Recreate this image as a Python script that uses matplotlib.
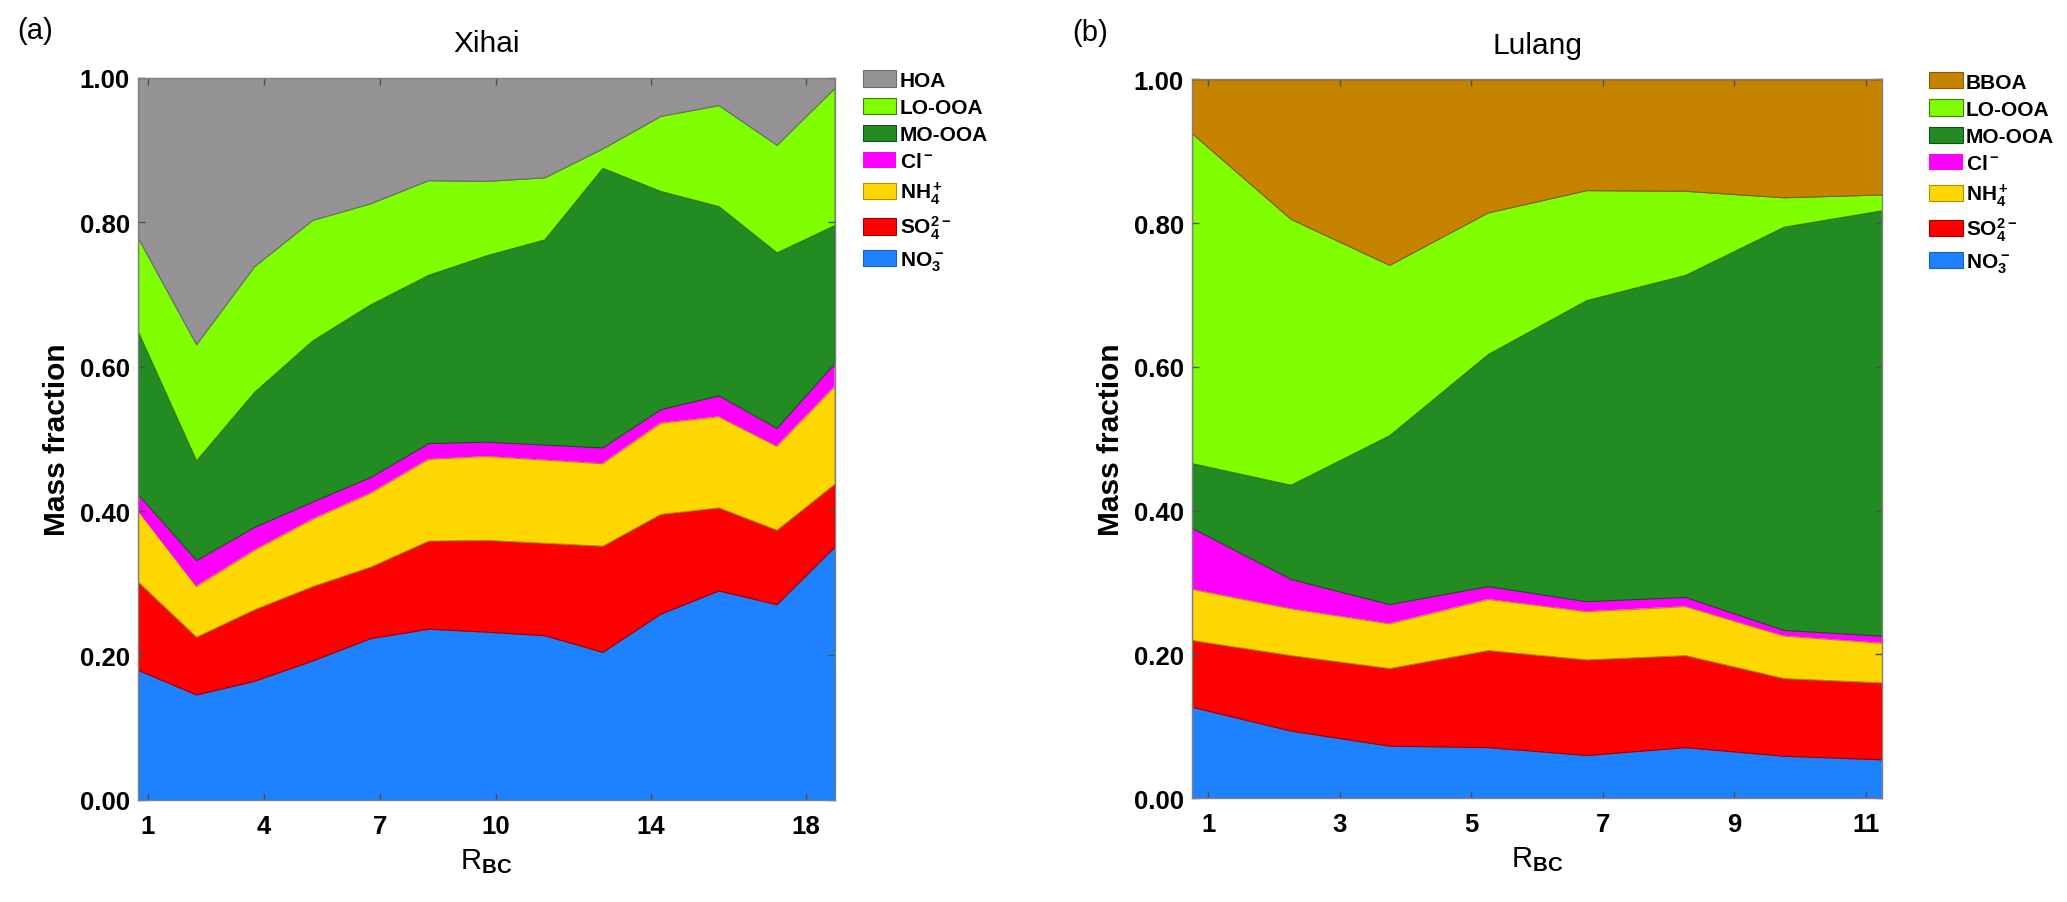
import matplotlib
matplotlib.use("Agg")
import matplotlib.pyplot as plt
from matplotlib.ticker import FormatStrFormatter

plt.rcParams["font.family"] = "Liberation Sans"
plt.rcParams["font.weight"] = "bold"
plt.rcParams["mathtext.fontset"] = "custom"
plt.rcParams["mathtext.rm"] = "Liberation Sans:bold"
plt.rcParams["mathtext.it"] = "Liberation Sans:bold"
plt.rcParams["mathtext.bf"] = "Liberation Sans:bold"
plt.rcParams["mathtext.sf"] = "Liberation Sans:bold"

#%% data: mass fractions per R_BC bin
# Xihai
rbc_xihai = [0.75, 2.25, 3.75, 5.25, 6.75, 8.25, 9.75, 11.25, 12.75, 14.25, 15.75, 17.25, 18.75]
no3_xihai = [0.180, 0.146, 0.165, 0.193, 0.224, 0.237, 0.233, 0.228, 0.205, 0.258, 0.290, 0.271, 0.351]
so4_xihai = [0.122, 0.080, 0.099, 0.103, 0.099, 0.122, 0.127, 0.128, 0.147, 0.138, 0.115, 0.103, 0.087]
nh4_xihai = [0.098, 0.070, 0.082, 0.093, 0.102, 0.113, 0.116, 0.115, 0.114, 0.126, 0.126, 0.116, 0.135]
cl_xihai = [0.023, 0.036, 0.032, 0.024, 0.022, 0.022, 0.020, 0.021, 0.022, 0.019, 0.029, 0.025, 0.032]
mo_xihai = [0.225, 0.138, 0.187, 0.223, 0.239, 0.233, 0.258, 0.284, 0.387, 0.302, 0.262, 0.243, 0.191]
lo_xihai = [0.130, 0.161, 0.174, 0.167, 0.140, 0.131, 0.103, 0.086, 0.027, 0.104, 0.140, 0.149, 0.190]
hoa_xihai = [0.222, 0.369, 0.261, 0.197, 0.174, 0.142, 0.143, 0.138, 0.098, 0.053, 0.038, 0.093, 0.014]
xticks_xihai = [1, 4, 7, 10, 14, 18]

# Lulang
rbc_lulang = [0.75, 2.25, 3.75, 5.25, 6.75, 8.25, 9.75, 11.25]
no3_lulang = [0.127, 0.094, 0.073, 0.071, 0.060, 0.071, 0.059, 0.054]
so4_lulang = [0.093, 0.105, 0.108, 0.135, 0.133, 0.128, 0.108, 0.107]
nh4_lulang = [0.071, 0.065, 0.062, 0.071, 0.067, 0.068, 0.059, 0.055]
cl_lulang = [0.085, 0.041, 0.027, 0.018, 0.014, 0.013, 0.008, 0.010]
mo_lulang = [0.090, 0.131, 0.235, 0.323, 0.419, 0.448, 0.561, 0.592]
lo_lulang = [0.459, 0.370, 0.237, 0.197, 0.153, 0.117, 0.041, 0.022]
bboa_lulang = [0.075, 0.194, 0.258, 0.185, 0.154, 0.155, 0.164, 0.160]
xticks_lulang = [1, 3, 5, 7, 9, 11]

#%% colours (bottom -> top)
col_ions = ["#1E82FF", "#FF0000", "#FFD700", "#FF00FF"]
edge_ions = ["#1560c0", "#a00000", "#b09000", "none"]
col_oa_x = ["#228B22", "#80FF00", "#959395"]
edge_oa_x = ["#145214", "#3f7d10", "#6e6a78"]
col_oa_l = ["#228B22", "#80FF00", "#C58300"]
edge_oa_l = ["#145214", "#3f7d10", "#8a5a00"]

names_ions = [r"NO$_3^-$", r"SO$_4^{2-}$", r"NH$_4^+$", r"Cl$^-$"]


def stack_panel(ax, x, layers, names, colors, edges, xticks, title, tag, leg_x):
    polys = ax.stackplot(x, layers, colors=colors, labels=names)
    for p, e in zip(polys, edges):
        p.set_edgecolor(e)
        p.set_linewidth(0.8)

    ax.set_xlim(x[0], x[-1])
    ax.set_ylim(0, 1)
    ax.set_xticks(xticks)
    ax.set_yticks([0, 0.2, 0.4, 0.6, 0.8, 1.0])
    ax.yaxis.set_major_formatter(FormatStrFormatter("%.2f"))
    ax.tick_params(direction="in", top=True, right=True, length=5, width=1,
                   color="#505050")
    ax.tick_params(axis="x", labelsize=18.5, pad=10)
    ax.tick_params(axis="y", labelsize=18.5, pad=6)
    for s in ax.spines.values():
        s.set_color("#808080")
        s.set_linewidth(1)

    ax.set_xlabel(r"R$_{\mathrm{BC}}$", fontsize=21, labelpad=6)
    ax.set_ylabel("Mass fraction", fontsize=21.5, fontweight="bold", labelpad=6)
    ax.set_title(title, fontsize=21.5, fontweight="normal", pad=19)
    ax.text(-0.173, 1.085, tag, transform=ax.transAxes, fontsize=21,
            fontweight="normal", va="top", ha="left")

    h, l = ax.get_legend_handles_labels()
    ax.legend(h[::-1], l[::-1], loc="upper left", bbox_to_anchor=(leg_x, 1.01),
              frameon=False, fontsize=15, borderaxespad=0, borderpad=0,
              handlelength=1.63, handleheight=0.82, handletextpad=0.15,
              labelspacing=0.38)


fig = plt.figure(figsize=(20.67, 9.03), dpi=100)
ax1 = fig.add_axes([0.0668, 0.113, 0.337, 0.800])
ax2 = fig.add_axes([0.5767, 0.115, 0.334, 0.796])

stack_panel(ax1, rbc_xihai,
            [no3_xihai, so4_xihai, nh4_xihai, cl_xihai, mo_xihai, lo_xihai, hoa_xihai],
            names_ions + ["MO-OOA", "LO-OOA", "HOA"],
            col_ions + col_oa_x, edge_ions + edge_oa_x,
            xticks_xihai, "Xihai", "(a)", 1.04)

stack_panel(ax2, rbc_lulang,
            [no3_lulang, so4_lulang, nh4_lulang, cl_lulang, mo_lulang, lo_lulang, bboa_lulang],
            names_ions + ["MO-OOA", "LO-OOA", "BBOA"],
            col_ions + col_oa_l, edge_ions + edge_oa_l,
            xticks_lulang, "Lulang", "(b)", 1.067)

fig.savefig("out.png", dpi=100)
